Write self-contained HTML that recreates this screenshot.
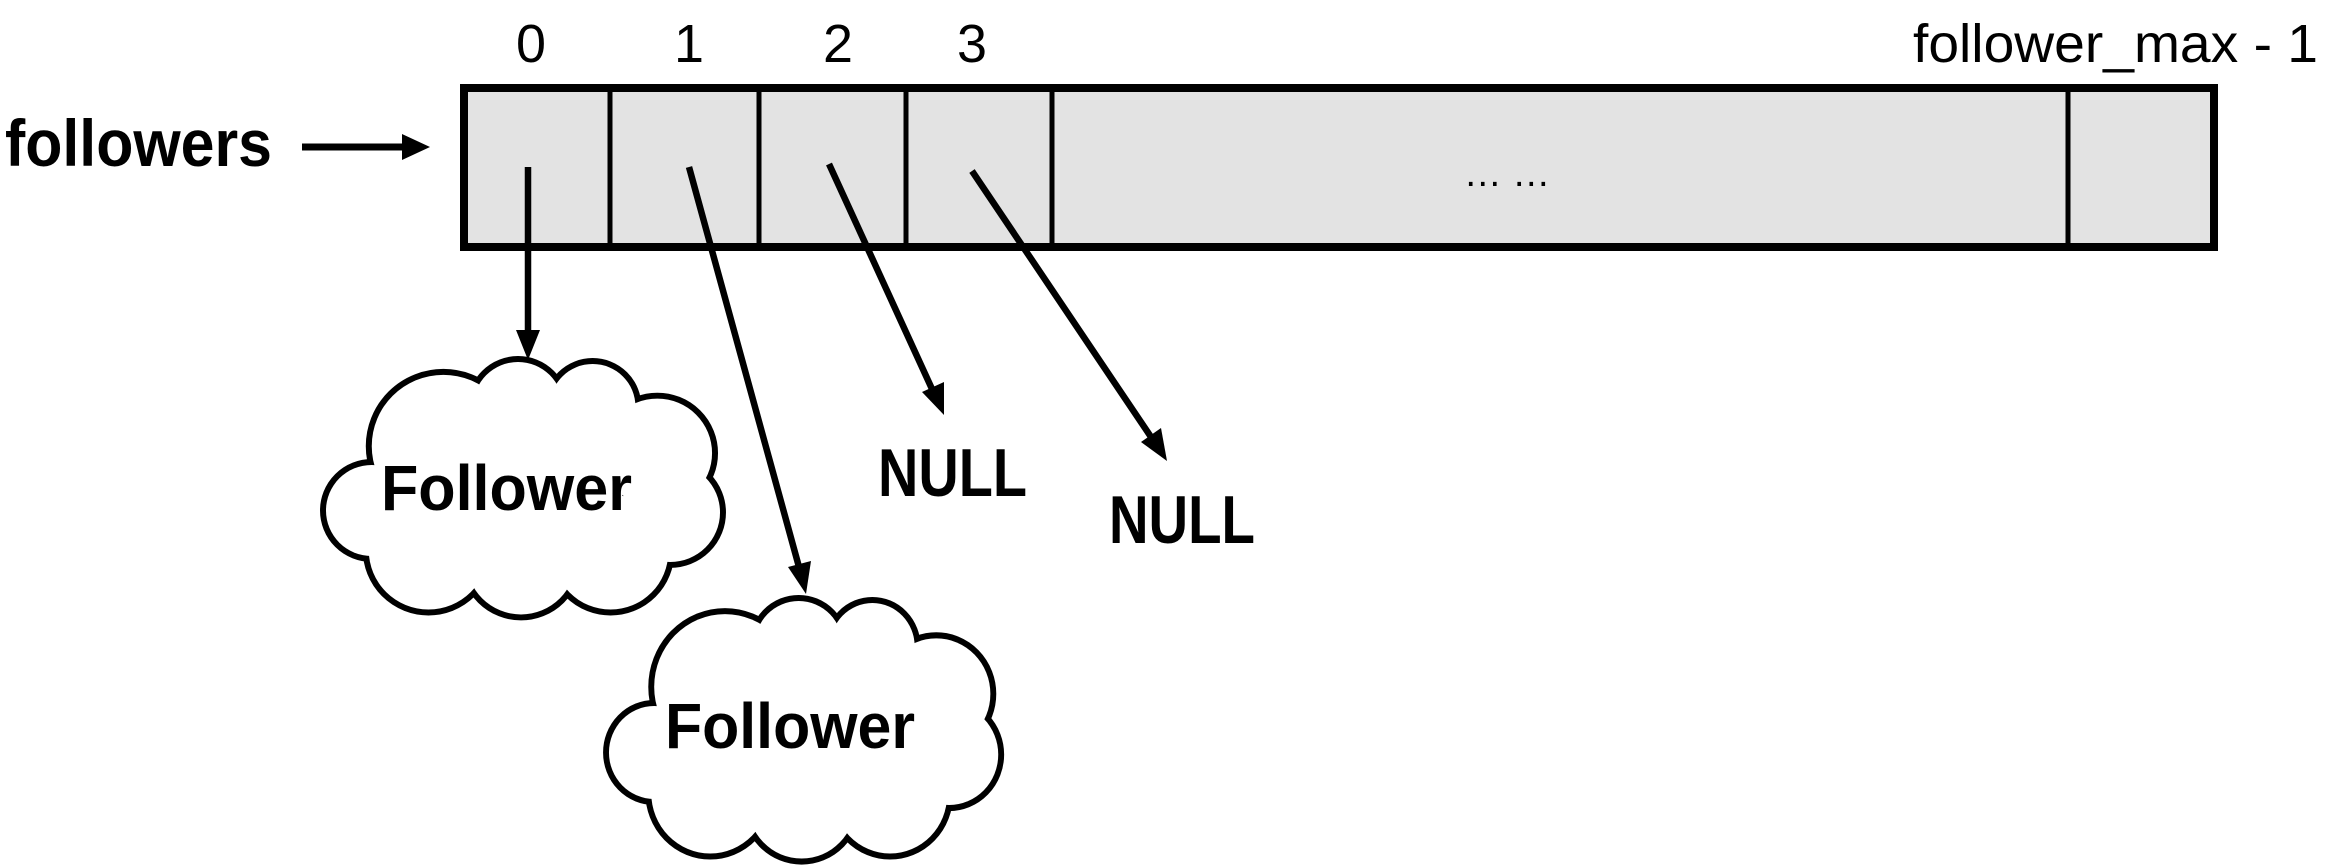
<!DOCTYPE html>
<html><head><meta charset="utf-8"><style>
html,body{margin:0;padding:0;background:#fff;}
svg{display:block;}
text{font-family:"Liberation Sans",sans-serif;}
</style></head><body>
<svg width="2333" height="868" viewBox="0 0 2333 868" xmlns="http://www.w3.org/2000/svg">
<defs>
<g id="cloudS">
<circle cx="48" cy="150" r="46"/>
<circle cx="120" cy="85" r="72"/>
<circle cx="195" cy="45" r="45"/>
<circle cx="270" cy="45" r="43"/>
<circle cx="335" cy="92" r="55"/>
<circle cx="348" cy="152" r="50"/>
<circle cx="288" cy="192" r="58"/>
<circle cx="198" cy="200" r="55"/>
<circle cx="105" cy="190" r="60"/>
<circle cx="200" cy="130" r="100"/>
</g>
</defs>
<rect x="464" y="88" width="1750" height="159" fill="#e3e3e3" stroke="#000" stroke-width="8"/>
<g stroke="#000" stroke-width="5">
<line x1="610" y1="88" x2="610" y2="247"/>
<line x1="759" y1="88" x2="759" y2="247"/>
<line x1="906" y1="88" x2="906" y2="247"/>
<line x1="1052" y1="88" x2="1052" y2="247"/>
<line x1="2068" y1="88" x2="2068" y2="247"/>
</g>
<text x="1507" y="186" font-size="38" text-anchor="middle">… …</text>
<g font-size="54" text-anchor="middle">
<text x="531" y="62" textLength="30" lengthAdjust="spacingAndGlyphs">0</text>
<text x="689" y="62" textLength="30" lengthAdjust="spacingAndGlyphs">1</text>
<text x="838" y="62" textLength="30" lengthAdjust="spacingAndGlyphs">2</text>
<text x="972" y="62" textLength="30" lengthAdjust="spacingAndGlyphs">3</text>
</g>
<text x="1913" y="62" font-size="54" textLength="405" lengthAdjust="spacingAndGlyphs">follower_max - 1</text>
<text x="5" y="166" font-size="66" font-weight="bold" textLength="267" lengthAdjust="spacingAndGlyphs">followers</text>
<line x1="302" y1="147" x2="405" y2="147" stroke="#000" stroke-width="7"/>
<polygon points="430,147 402,134 402,160" fill="#000"/>
<g stroke="#000" stroke-width="6.5">
<line x1="528" y1="167" x2="528" y2="332"/>
<line x1="689" y1="167" x2="799" y2="567"/>
<line x1="829" y1="164" x2="932" y2="389"/>
<line x1="972" y1="171" x2="1151" y2="437"/>
</g>
<g fill="#000">
<polygon points="528,360 516,330 540,330"/>
<polygon points="806,594 788,567 811,561"/>
<polygon points="944,415 922,392 944,382"/>
<polygon points="1167,461 1141,442 1161,428"/>
</g>
<g font-size="68" font-weight="bold">
<text x="878" y="496" textLength="149" lengthAdjust="spacingAndGlyphs">NULL</text>
<text x="1109" y="543" textLength="146" lengthAdjust="spacingAndGlyphs">NULL</text>
</g>
<g transform="translate(324,362) scale(0.995,0.99)">
<use href="#cloudS" fill="none" stroke="#000" stroke-width="12"/>
<use href="#cloudS" fill="#fff"/>
</g>
<g transform="translate(607,601) scale(0.983,1.01)">
<use href="#cloudS" fill="none" stroke="#000" stroke-width="12"/>
<use href="#cloudS" fill="#fff"/>
</g>
<g font-size="64" font-weight="bold">
<text x="381" y="510" textLength="251" lengthAdjust="spacingAndGlyphs">Follower</text>
<text x="665" y="748" textLength="250" lengthAdjust="spacingAndGlyphs">Follower</text>
</g>
</svg>
</body></html>
